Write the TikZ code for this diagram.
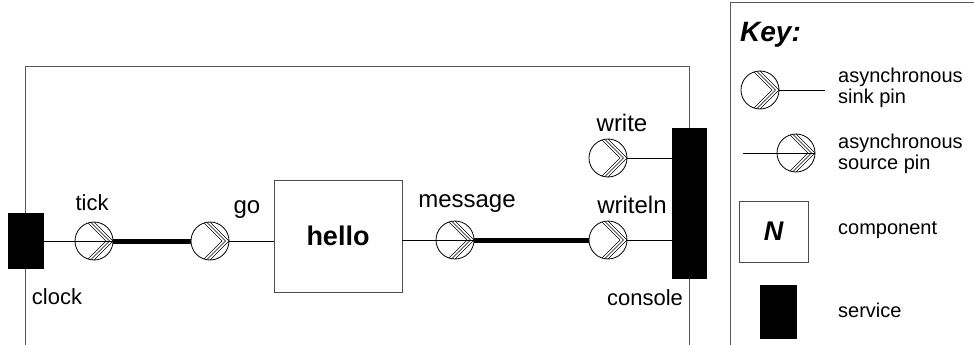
\documentclass[tikz,border=0pt]{standalone}
\usepackage{fontspec}
\setmainfont{Liberation Sans}
\begin{document}
\begin{tikzpicture}[x=1pt,y=-1pt]
\tikzstyle{apin}=[circle,draw,line width=0.8pt,minimum size=38pt,inner sep=0pt,
  path picture={
    \foreach \o in {0,3.5,7}
      \draw[line width=0.55pt] ([xshift=-\o pt]path picture bounding box.east) ++(-30pt,-30pt) -- ++(30pt,30pt) -- ++(-30pt,30pt);
  }]
\tikzstyle{service}=[rectangle,fill=black,draw=black,inner sep=0pt]
\tikzstyle{comp}=[rectangle,draw=gray!60!black,line width=0.8pt,inner sep=0pt]
\tikzstyle{boundary}=[draw=gray!70!black,line width=1pt]
\tikzstyle{wire}=[line width=5pt]
\tikzstyle{lbl}=[inner sep=0pt,font=\fontsize{24}{26}\selectfont]
\tikzstyle{keytext}=[inner sep=0pt,anchor=west,align=left,font=\fontsize{20}{21}\selectfont]

\useasboundingbox (0,0) rectangle (974,345);

% outer boundary of the application
\draw[boundary] (25,345) -- (25,67) -- (689,67) -- (689,345);

\node[service,minimum width=35pt,minimum height=55pt] (clock) at (25.5,240.5) {};
\node[service,minimum width=34pt,minimum height=150pt] (console) at (689,203) {};
\node[comp,minimum width=128pt,minimum height=112pt,font=\bfseries\fontsize{27}{29}\selectfont] (hello) at (338,236) {hello};

\node[apin] (tick) at (94,241) {};
\node[apin] (go) at (210,241) {};
\node[apin] (message) at (455,240) {};
\node[apin] (writeln) at (608,240) {};
\node[apin] (write) at (608,158) {};

\draw[line width=0.8pt] (clock.east |- tick) -- (tick.east);
\draw[wire] (tick.east) -- (go.west);
\draw[line width=0.8pt] (go.east) -- (go.east -| hello.west);
\draw[line width=0.8pt] (hello.east |- message) -- (message.east);
\draw[wire] (message.east) -- (writeln.west);
\draw[line width=0.8pt] (writeln.east) -- (writeln.east -| console.west);
\draw[line width=0.8pt] (write.east) -- (write.east -| console.west);

\node[lbl,font=\fontsize{22}{24}\selectfont] (tickLbl) at (92,203) {tick};
\node[lbl] (goLbl) at (247,210) {go};
\node[lbl,font=\fontsize{22}{24}\selectfont] (clockLbl) at (57,297) {clock};
\node[lbl] (messageLbl) at (467,204) {message};
\node[lbl] (writelnLbl) at (632,205) {writeln};
\node[lbl] (writeLbl) at (622,123) {write};
\node[lbl,font=\fontsize{22}{24}\selectfont] (consoleLbl) at (645,298) {console};

% key
\draw[boundary] (730,345) -- (730,3) -- (974,3);
\node[inner sep=0pt,font=\bfseries\itshape\fontsize{28}{30}\selectfont] (key) at (770.5,35) {Key:};

\node[apin] (sinkKey) at (760,90) {};
\coordinate (sinkEnd) at (825,90);
\draw[line width=0.8pt] (sinkKey.east) -- (sinkEnd);
\node[keytext] (sinkTxt) at (838,88) {asynchronous\\sink pin};

\node[apin] (sourceKey) at (796,153) {};
\coordinate (sourceStart) at (743,153);
\draw[line width=0.8pt] (sourceStart) -- (sourceKey.east);
\node[keytext] (sourceTxt) at (838,154) {asynchronous\\source pin};

\node[comp,minimum width=69pt,minimum height=61pt,font=\bfseries\itshape\fontsize{27}{29}\selectfont] (compKey) at (773.5,231.5) {N};
\node[keytext] (compTxt) at (838,230) {component};

\node[service,minimum width=36pt,minimum height=53pt] (serviceKey) at (778,311.5) {};
\node[keytext] (serviceTxt) at (838,310) {service};
\end{tikzpicture}
\end{document}
